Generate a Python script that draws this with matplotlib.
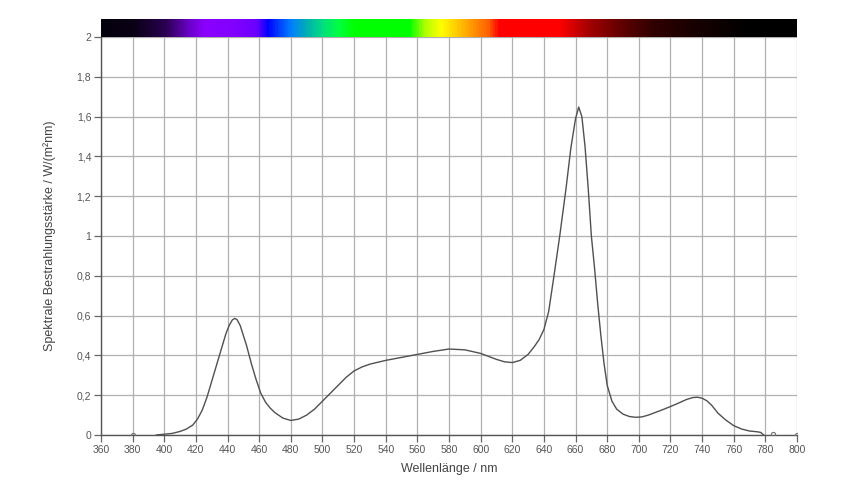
import numpy as np
import matplotlib
matplotlib.use("Agg")
import matplotlib.pyplot as plt
from matplotlib.colors import LinearSegmentedColormap
from matplotlib.ticker import FuncFormatter

plt.rcParams['font.family'] = ['Liberation Sans', 'DejaVu Sans']

wavelength = [395, 400, 405, 410, 414, 418, 421, 424, 427, 430, 433, 436, 439, 441, 443, 444.5, 446,
              448, 450, 452, 455, 458, 461, 464, 467, 470, 475, 480, 485, 490, 495, 500, 505, 510,
              515, 520, 525, 530, 540, 550, 560, 570, 580, 590, 600, 605, 610, 615, 620, 625, 630,
              634, 637, 640, 643, 646, 650, 654, 657, 660, 662, 664, 666, 668, 670, 672, 674, 676,
              678, 680, 683, 686, 690, 694, 698, 702, 706, 710, 715, 720, 725, 730, 734, 737, 740,
              743, 746, 750, 755, 760, 765, 770, 775, 777, 779]
irradiance = [0.0, 0.004, 0.008, 0.018, 0.03, 0.05, 0.08, 0.125, 0.19, 0.27, 0.35, 0.43, 0.51, 0.55, 0.578, 0.586, 0.58,
              0.55, 0.50, 0.45, 0.36, 0.28, 0.21, 0.165, 0.135, 0.112, 0.085, 0.073, 0.08, 0.10, 0.13, 0.17, 0.21, 0.25,
              0.29, 0.322, 0.342, 0.356, 0.375, 0.39, 0.405, 0.42, 0.432, 0.428, 0.41, 0.395, 0.38, 0.368, 0.364, 0.375, 0.405,
              0.445, 0.48, 0.53, 0.62, 0.78, 1.0, 1.24, 1.44, 1.59, 1.648, 1.6, 1.45, 1.24, 1.0, 0.84, 0.66, 0.5,
              0.36, 0.25, 0.17, 0.13, 0.105, 0.093, 0.089, 0.091, 0.1, 0.112, 0.127, 0.143, 0.16, 0.178, 0.188, 0.19, 0.185,
              0.172, 0.15, 0.11, 0.075, 0.047, 0.03, 0.02, 0.016, 0.013, 0.0]

marker_wl = [380, 785, 800]
marker_val = [0.0, 0.004, 0.0]

x_ticks = list(range(360, 801, 20))
y_ticks = [0, 0.2, 0.4, 0.6, 0.8, 1.0, 1.2, 1.4, 1.6, 1.8, 2.0]

spectrum_stops = [
    (360, '#04000c'), (380, '#0a0016'), (400, '#2a0050'), (415, '#6a00c8'),
    (425, '#8b00ff'), (445, '#8000ff'), (458, '#6a00ff'), (465, '#0000ff'),
    (472, '#0040ff'), (480, '#0080ff'), (490, '#00b0b0'), (500, '#00e080'),
    (510, '#00ff40'), (520, '#00ff00'), (555, '#00ff00'), (565, '#b0ff00'),
    (575, '#ffff00'), (590, '#ffb000'), (605, '#ff6000'), (612, '#ff0000'),
    (650, '#ff0000'), (670, '#a00000'), (690, '#600000'), (710, '#300000'),
    (740, '#150000'), (770, '#000000'), (800, '#000000'),
]

W, H = 847, 483
fig = plt.figure(figsize=(W / 100, H / 100), dpi=100)
left, right, bottom, top = 101 / W, 797 / W, 1 - 435 / H, 1 - 37 / H
ax = fig.add_axes([left, bottom, right - left, top - bottom])

ax.set_xlim(360, 800)
ax.set_ylim(0, 2)
ax.set_xticks(x_ticks)
ax.set_yticks(y_ticks)
ax.grid(True, color='#b0b0b0', linewidth=0.9)
ax.set_axisbelow(True)

ax.plot(wavelength, irradiance, color='#505050', linewidth=1.0, zorder=3)
ax.plot(marker_wl, marker_val, linestyle='none', marker='o', markersize=3,
        markerfacecolor='none', markeredgecolor='#707070', markeredgewidth=0.8, zorder=3)

fmt = FuncFormatter(lambda v, p: ('%g' % round(v, 1)).replace('.', ','))
ax.yaxis.set_major_formatter(fmt)
ax.tick_params(axis='both', labelsize=7.5, colors='#666666', labelcolor='#555555',
               length=5, width=0.9, pad=2)
for s in ['top', 'right']:
    ax.spines[s].set_visible(False)
for s in ['left', 'bottom']:
    ax.spines[s].set_color('#555555')
    ax.spines[s].set_linewidth(1.0)

ax.set_xlabel('Wellenlänge / nm', fontsize=9, color='#444444', labelpad=6)
ax.set_ylabel('Spektrale Bestrahlungsstärke / W/(m²nm)', fontsize=9, color='#444444', labelpad=15)

# spectrum bar
cax = fig.add_axes([left, 1 - 37 / H, right - left, 18 / H])
pos = [(w - 360) / 440 for w, c in spectrum_stops]
cmap = LinearSegmentedColormap.from_list('spec', list(zip(pos, [c for w, c in spectrum_stops])))
grad = np.linspace(0, 1, 880).reshape(1, -1)
cax.imshow(grad, aspect='auto', cmap=cmap, extent=[360, 800, 0, 1])
cax.set_axis_off()

fig.savefig('out.png', dpi=100)
